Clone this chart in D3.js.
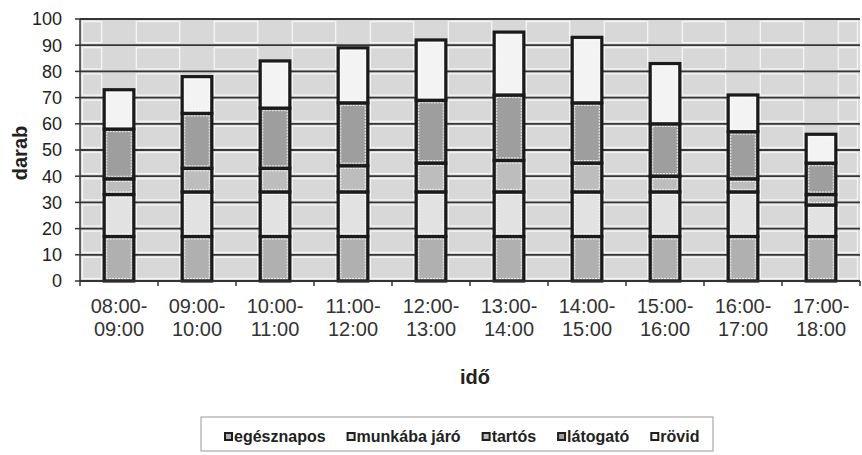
<!DOCTYPE html>
<html><head><meta charset="utf-8">
<script src="https://cdn.jsdelivr.net/npm/d3@7/dist/d3.min.js"></script>
<style>body{margin:0;background:#fff}svg{display:block}text{font-family:"Liberation Sans",Arial,sans-serif}</style>
</head><body><svg id="c" width="862" height="455"></svg>
<script>
const categories = ["08:00-09:00","09:00-10:00","10:00-11:00","11:00-12:00","12:00-13:00","13:00-14:00","14:00-15:00","15:00-16:00","16:00-17:00","17:00-18:00"];
const seriesNames = ["egésznapos","munkába járó","tartós","látogató","rövid"];
const egesznapos = [17,17,17,17,17,17,17,17,17,17];
const munkabaJaro = [16,17,17,17,17,17,17,17,17,12];
const tartos = [6,9,9,10,11,12,11,6,5,4];
const latogato = [19,21,23,24,24,25,23,20,18,12];
const rovid = [15,14,18,21,23,24,25,23,14,11];
const yTicks = [0,10,20,30,40,50,60,70,80,90,100];
const colors = ["#b0b0b0","#e2e2e2","#bdbdbd","#9e9e9e","#f3f3f3"];

const seriesValues = [egesznapos, munkabaJaro, tartos, latogato, rovid];
const rows = categories.map((c,i)=>{const r={cat:c}; seriesNames.forEach((s,j)=>r[s]=seriesValues[j][i]); return r;});
const stack = d3.stack().keys(seriesNames)(rows);

const svg = d3.select("#c");
const L=80, R=860, T=19, B=281;
const x = d3.scaleBand().domain(categories).range([L,R]).paddingInner(0.62).paddingOuter(0.31);
const y = d3.scaleLinear().domain([0,100]).range([B,T]);
const step = x.step();

// plot background cells
const bg = svg.append("g");
bg.append("rect").attr("x",L).attr("y",T).attr("width",R-L).attr("height",B-T).attr("fill","#d8d8d8");
const gaps = [];
gaps.push([L, x(categories[0])]);
for(let i=0;i<categories.length-1;i++) gaps.push([x(categories[i])+x.bandwidth(), x(categories[i+1])]);
gaps.push([x(categories[categories.length-1])+x.bandwidth(), R]);
for(let k=0;k<yTicks.length-1;k++){
  const y0=y(yTicks[k+1]), y1=y(yTicks[k]);
  gaps.forEach(g=>{
    bg.append("rect").attr("x",g[0]+2.5).attr("y",y0+2.5).attr("width",Math.max(0,g[1]-g[0]-5)).attr("height",y1-y0-5)
      .attr("fill","none").attr("stroke","#f6f6f6").attr("stroke-width",1.3);
  });
}
// gridlines
bg.selectAll("line.g").data(yTicks).join("line").attr("x1",L).attr("x2",R).attr("y1",d=>y(d)).attr("y2",d=>y(d))
  .attr("stroke","#363636").attr("stroke-width",1.8);

// bars
const gs = svg.append("g").selectAll("g").data(stack).join("g");
gs.each(function(s,j){
  const g = d3.select(this);
  s.forEach(d=>{
    const cx = x(d.data.cat), w = x.bandwidth();
    const y0 = y(d[1]), h = y(d[0]) - y(d[1]);
    g.append("rect").attr("x",cx).attr("y",y0).attr("width",w).attr("height",h)
      .attr("fill",colors[j]).attr("stroke","#1a1a1a").attr("stroke-width",3.2);
    if(h>7) g.append("rect").attr("x",cx+2.6).attr("y",y0+2.6).attr("width",w-5.2).attr("height",h-5.2)
      .attr("fill","none").attr("stroke","#ffffff").attr("stroke-width",1).attr("stroke-dasharray","2,1").attr("opacity",0.85);
  });
});

// axes
svg.append("line").attr("x1",L).attr("x2",L).attr("y1",T).attr("y2",B).attr("stroke","#333").attr("stroke-width",1.5);
svg.append("line").attr("x1",L).attr("x2",R).attr("y1",B).attr("y2",B).attr("stroke","#333").attr("stroke-width",1.5);
svg.selectAll("line.yt").data(yTicks).join("line").attr("x1",L-5).attr("x2",L).attr("y1",d=>y(d)).attr("y2",d=>y(d)).attr("stroke","#333").attr("stroke-width",1.5);
svg.selectAll("text.yl").data(yTicks).join("text").attr("x",62).attr("y",d=>y(d)).attr("dy","0.36em")
  .attr("text-anchor","end").attr("font-size",18).attr("fill","#222").text(d=>d);
const bounds = d3.range(categories.length+1).map(i=>L+i*step);
svg.selectAll("line.xt").data(bounds).join("line").attr("x1",d=>d).attr("x2",d=>d).attr("y1",B).attr("y2",B+5).attr("stroke","#333").attr("stroke-width",1.5);
const xl = svg.selectAll("text.xl").data(categories).join("text").attr("text-anchor","middle").attr("font-size",20).attr("fill","#333");
xl.append("tspan").attr("x",d=>x(d)+x.bandwidth()/2).attr("y",313).text(d=>d.split("-")[0]+"-");
xl.append("tspan").attr("x",d=>x(d)+x.bandwidth()/2).attr("y",336).text(d=>d.split("-")[1]);

// axis titles
svg.append("text").attr("transform","translate(27,153) rotate(-90)").attr("text-anchor","middle")
  .attr("font-size",20).attr("font-weight","bold").attr("fill","#222").text("darab");
svg.append("text").attr("x",(L+R)/2+5).attr("y",384).attr("text-anchor","middle")
  .attr("font-size",20).attr("font-weight","bold").attr("fill","#222").text("idő");

// legend
const lg = svg.append("g");
lg.append("rect").attr("x",201).attr("y",417).attr("width",512).attr("height",34).attr("fill","#fff").attr("stroke","#999").attr("stroke-width",1);
let lx = 225;
seriesNames.forEach((s,j)=>{
  lg.append("rect").attr("x",lx).attr("y",433).attr("width",7).attr("height",7).attr("fill",colors[j]).attr("stroke","#1e1e1e").attr("stroke-width",2);
  const t = lg.append("text").attr("x",lx+9).attr("y",442).attr("font-size",16).attr("font-weight","bold").attr("fill","#222").text(s);
  lx += 9 + t.node().getComputedTextLength() + 22;
});
</script></body></html>
